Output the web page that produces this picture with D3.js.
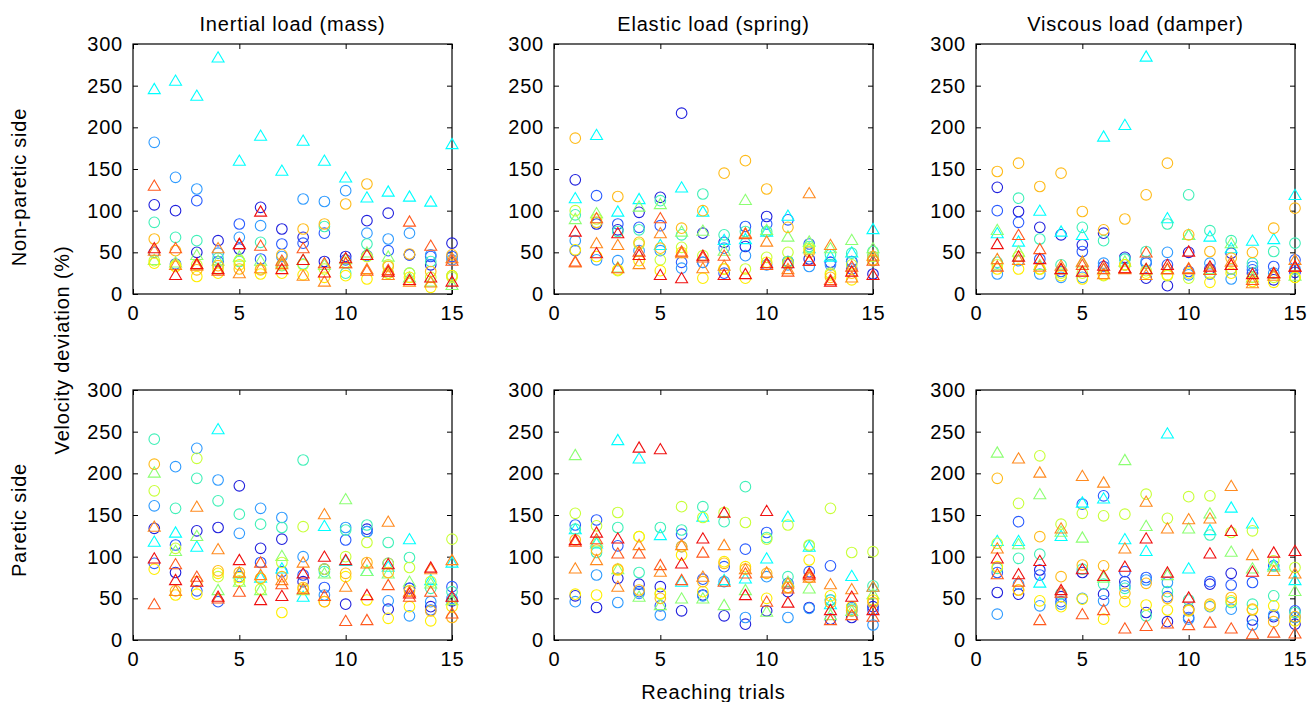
<!DOCTYPE html>
<html>
<head>
<meta charset="utf-8">
<script src="https://cdn.jsdelivr.net/npm/d3@7"></script>
<style>
  body { margin: 0; background: #fff; }
  svg text { font-family: Arial, "Liberation Sans", sans-serif; fill: #000; letter-spacing: 0.8px; }
</style>
</head>
<body>
<div id="chart"></div>
<script>
// x categories and ticks
const trials = [1, 2, 3, 4, 5, 6, 7, 8, 9, 10, 11, 12, 13, 14, 15];
const xTicks = [0, 5, 10, 15];
const yTicks = [0, 50, 100, 150, 200, 250, 300];

const loadTitles = ['Inertial load (mass)', 'Elastic load (spring)', 'Viscous load (damper)'];
const sideLabels = ['Non-paretic side', 'Paretic side'];

// one entry per subject (jet colours), circle or triangle marker
const seriesColors = ['#2020dd', '#2a5cff', '#2f9bff', '#00ffff', '#40f0b8', '#8cff73',
                      '#c8ff38', '#ffee00', '#ffbb1a', '#ff8a1f', '#ff5a1f', '#f01010'];
const seriesShapes = ['o', 'o', 'o', '^', 'o', '^', 'o', 'o', 'o', '^', '^', '^'];

// values per subject, trials 1..15
const inertialNonParetic = [
  [107, 100, 50, 64, 54, 104, 78, 68, 39, 45, 88, 97, 47, 35, 61],
  [50, 36, 112, 39, 84, 42, 60, 61, 73, 41, 46, 52, 47, 45, 45],
  [182, 140, 126, 49, 68, 82, 45, 114, 111, 124, 73, 66, 73, 47, 41],
  [246, 256, 238, 284, 160, 190, 148, 184, 160, 140, 116, 123, 117, 111, 180],
  [86, 68, 64, 43, 39, 62, 34, 36, 81, 25, 60, 25, 25, 39, 22],
  [41, 38, 47, 40, 45, 40, 38, 41, 35, 42, 50, 45, 20, 15, 11],
  [40, 35, 35, 30, 40, 30, 35, 35, 30, 38, 45, 35, 25, 20, 20],
  [37, 33, 21, 25, 35, 24, 25, 23, 20, 22, 18, 25, 20, 8, 22],
  [66, 52, 29, 34, 30, 29, 47, 78, 84, 108, 132, 33, 48, 27, 47],
  [52, 35, 34, 55, 25, 31, 36, 22, 15, 37, 30, 23, 15, 14, 43],
  [130, 55, 36, 28, 60, 58, 40, 55, 37, 37, 28, 29, 87, 58, 40],
  [55, 23, 36, 30, 60, 99, 30, 41, 26, 43, 47, 27, 17, 20, 15]
];
const elasticNonParetic = [
  [137, 84, 77, 98, 116, 217, 73, 62, 57, 93, 39, 42, 38, 39, 24],
  [52, 118, 84, 80, 82, 38, 38, 25, 81, 84, 89, 60, 38, 30, 45],
  [64, 41, 40, 52, 52, 31, 38, 55, 46, 35, 35, 33, 35, 39, 40],
  [115, 191, 99, 114, 59, 128, 99, 65, 66, 75, 94, 55, 45, 50, 78],
  [95, 86, 75, 77, 112, 71, 120, 71, 75, 75, 39, 57, 47, 49, 51],
  [90, 97, 32, 105, 108, 75, 76, 52, 113, 77, 69, 63, 55, 65, 55],
  [100, 90, 28, 60, 41, 56, 46, 30, 30, 44, 50, 55, 25, 35, 45],
  [53, 45, 29, 40, 28, 50, 19, 30, 19, 38, 37, 53, 23, 17, 40],
  [187, 86, 117, 62, 55, 79, 100, 145, 160, 126, 80, 50, 20, 25, 41],
  [38, 61, 59, 36, 73, 49, 31, 34, 73, 63, 30, 121, 59, 20, 46],
  [39, 91, 31, 51, 91, 51, 44, 46, 72, 35, 27, 40, 17, 33, 40],
  [75, 49, 73, 47, 23, 19, 46, 23, 24, 37, 37, 40, 15, 27, 23]
];
const viscousNonParetic = [
  [128, 99, 80, 71, 59, 73, 44, 19, 10, 50, 30, 49, 25, 17, 26],
  [100, 86, 42, 27, 51, 33, 35, 37, 35, 27, 24, 30, 29, 33, 41],
  [24, 40, 24, 20, 20, 37, 42, 39, 50, 23, 37, 18, 33, 25, 30],
  [73, 63, 100, 75, 71, 189, 203, 285, 91, 71, 69, 55, 64, 66, 119],
  [38, 115, 66, 35, 80, 64, 42, 51, 84, 119, 76, 64, 37, 51, 61],
  [77, 51, 35, 30, 38, 30, 39, 30, 30, 71, 30, 61, 20, 25, 22],
  [35, 45, 30, 25, 25, 22, 35, 28, 22, 19, 25, 30, 20, 20, 20],
  [30, 30, 30, 22, 18, 23, 35, 25, 23, 25, 14, 25, 15, 14, 20],
  [147, 157, 129, 145, 99, 77, 90, 119, 157, 71, 51, 43, 50, 79, 103],
  [42, 41, 33, 34, 39, 24, 30, 23, 30, 31, 29, 39, 13, 22, 41],
  [33, 71, 54, 30, 35, 30, 31, 50, 30, 30, 29, 35, 17, 25, 33],
  [60, 45, 42, 30, 27, 34, 31, 30, 35, 51, 33, 35, 24, 25, 33]
];
const inertialParetic = [
  [134, 81, 131, 135, 185, 110, 121, 70, 85, 43, 133, 37, 62, 40, 47],
  [92, 114, 59, 46, 76, 93, 82, 78, 63, 120, 130, 92, 62, 36, 64],
  [161, 208, 230, 192, 128, 158, 147, 100, 54, 135, 130, 47, 29, 46, 50],
  [118, 129, 112, 253, 80, 75, 86, 52, 137, 95, 83, 88, 121, 72, 93],
  [241, 158, 194, 167, 151, 139, 135, 216, 82, 132, 138, 117, 99, 62, 58],
  [201, 107, 125, 60, 70, 60, 101, 60, 80, 169, 83, 80, 70, 68, 48],
  [179, 110, 218, 76, 71, 61, 93, 136, 85, 100, 117, 92, 87, 70, 121],
  [85, 54, 55, 80, 75, 74, 33, 61, 46, 76, 48, 26, 40, 23, 40],
  [211, 59, 70, 83, 81, 74, 76, 63, 46, 80, 93, 81, 59, 35, 27],
  [136, 59, 160, 109, 81, 78, 72, 93, 151, 64, 92, 142, 58, 85, 96],
  [43, 91, 76, 50, 58, 93, 67, 61, 53, 23, 24, 66, 52, 58, 32],
  [98, 72, 70, 52, 96, 48, 53, 80, 100, 96, 54, 91, 56, 87, 52]
];
const elasticParetic = [
  [53, 39, 74, 67, 64, 35, 54, 29, 19, 35, 58, 39, 25, 27, 40],
  [138, 144, 113, 58, 41, 127, 73, 88, 109, 129, 68, 82, 89, 39, 36],
  [46, 78, 45, 56, 30, 112, 53, 70, 27, 76, 27, 38, 48, 35, 18],
  [133, 116, 240, 218, 126, 70, 148, 72, 74, 98, 148, 112, 43, 77, 64],
  [133, 105, 135, 81, 135, 132, 160, 142, 184, 123, 76, 113, 48, 37, 65],
  [222, 118, 85, 52, 42, 50, 50, 42, 60, 34, 70, 62, 30, 35, 55],
  [152, 137, 153, 124, 55, 160, 147, 153, 141, 121, 138, 114, 158, 105, 106],
  [55, 54, 84, 124, 56, 102, 58, 94, 88, 50, 63, 96, 53, 40, 48],
  [120, 108, 85, 60, 50, 112, 70, 92, 85, 80, 63, 75, 45, 35, 45],
  [86, 96, 64, 114, 82, 114, 76, 114, 85, 81, 68, 75, 67, 61, 64],
  [118, 121, 104, 104, 90, 72, 105, 70, 80, 46, 62, 78, 24, 30, 28],
  [120, 129, 122, 231, 229, 92, 122, 153, 54, 155, 45, 80, 36, 52, 36]
];
const viscousParetic = [
  [57, 55, 84, 52, 81, 55, 70, 33, 22, 37, 67, 80, 24, 28, 19],
  [81, 142, 78, 46, 163, 173, 82, 75, 52, 27, 70, 66, 69, 89, 35],
  [31, 67, 41, 43, 50, 47, 65, 72, 69, 25, 40, 37, 18, 30, 27],
  [119, 119, 69, 125, 165, 170, 121, 107, 248, 86, 132, 159, 140, 90, 72],
  [86, 98, 103, 56, 85, 67, 62, 29, 58, 48, 126, 45, 43, 53, 33],
  [225, 115, 175, 130, 123, 75, 216, 137, 78, 134, 152, 106, 86, 88, 59],
  [116, 164, 221, 139, 152, 149, 151, 175, 146, 172, 173, 129, 131, 95, 87],
  [88, 60, 47, 40, 49, 25, 46, 42, 36, 35, 41, 47, 36, 41, 23],
  [194, 60, 124, 76, 90, 89, 56, 68, 50, 36, 43, 51, 37, 22, 28],
  [110, 218, 201, 134, 197, 189, 110, 166, 134, 145, 146, 185, 102, 83, 80],
  [79, 70, 24, 57, 31, 36, 14, 17, 20, 18, 21, 14, 7, 9, 8],
  [98, 79, 95, 60, 85, 77, 88, 122, 81, 51, 104, 131, 82, 105, 107]
];

const panels = [
  [inertialNonParetic, elasticNonParetic, viscousNonParetic],
  [inertialParetic, elasticParetic, viscousParetic]
];

const width = 1309;
const height = 702;
const panelW = 319;
const panelH = 250;
const colX = [133, 554, 976];
const rowY = [44, 390];
const fontSize = 20;

const svg = d3.select('#chart')
  .append('svg')
  .attr('width', width)
  .attr('height', height);

const xScale = d3.scaleLinear().domain([0, 15]).range([0, panelW]);
const yScale = d3.scaleLinear().domain([0, 300]).range([panelH, 0]);

const triangle = 'M0,-5.6L6,4.6L-6,4.6Z';

function plot(g, data, showTitle, title) {
  // inward ticks on every side, MATLAB style box
  g.append('g')
    .attr('transform', `translate(0,${panelH})`)
    .call(d3.axisBottom(xScale).tickValues(xTicks).tickSizeInner(-5).tickSizeOuter(0).tickPadding(12));
  g.append('g')
    .call(d3.axisTop(xScale).tickValues(xTicks).tickSizeInner(-5).tickSizeOuter(0).tickFormat(''));
  g.append('g')
    .call(d3.axisLeft(yScale).tickValues(yTicks).tickSizeInner(-5).tickSizeOuter(0).tickPadding(10));
  g.append('g')
    .attr('transform', `translate(${panelW},0)`)
    .call(d3.axisRight(yScale).tickValues(yTicks).tickSizeInner(-5).tickSizeOuter(0).tickFormat(''));

  g.selectAll('.domain').remove();
  g.selectAll('.tick line').attr('stroke', '#000');
  g.selectAll('.tick text')
    .attr('font-size', fontSize)
    .attr('fill', '#000');

  g.append('rect')
    .attr('width', panelW)
    .attr('height', panelH)
    .attr('fill', 'none')
    .attr('stroke', '#000')
    .attr('stroke-width', 1.2);

  data.forEach((values, s) => {
    const pts = g.append('g')
      .selectAll('.pt')
      .data(values.map((v, i) => ({ x: trials[i], y: v })))
      .enter();
    if (seriesShapes[s] === 'o') {
      pts.append('circle')
        .attr('cx', d => xScale(d.x))
        .attr('cy', d => yScale(d.y))
        .attr('r', 5.3)
        .attr('fill', 'none')
        .attr('stroke', seriesColors[s])
        .attr('stroke-width', 1.1);
    } else {
      pts.append('path')
        .attr('d', triangle)
        .attr('transform', d => `translate(${xScale(d.x)},${yScale(d.y)})`)
        .attr('fill', 'none')
        .attr('stroke', seriesColors[s])
        .attr('stroke-width', 1.1);
    }
  });

  if (showTitle) {
    g.append('text')
      .attr('x', panelW / 2)
      .attr('y', -13)
      .attr('font-size', fontSize)
      .style('text-anchor', 'middle')
      .text(title);
  }
}

panels.forEach((row, r) => {
  row.forEach((data, c) => {
    const g = svg.append('g')
      .attr('transform', `translate(${colX[c]},${rowY[r]})`);
    plot(g, data, r === 0, loadTitles[c]);
  });
});

// side labels
const sideY = [187, 520];
sideLabels.forEach((label, r) => {
  svg.append('text')
    .attr('transform', `translate(26,${sideY[r]}) rotate(-90)`)
    .attr('font-size', fontSize)
    .style('text-anchor', 'middle')
    .text(label);
});

svg.append('text')
  .attr('transform', 'translate(69,350) rotate(-90)')
  .attr('font-size', fontSize)
  .style('text-anchor', 'middle')
  .text('Velocity deviation (%)');

svg.append('text')
  .attr('x', colX[1] + panelW / 2)
  .attr('y', 699)
  .attr('font-size', fontSize)
  .style('text-anchor', 'middle')
  .text('Reaching trials');
</script>
</body>
</html>
